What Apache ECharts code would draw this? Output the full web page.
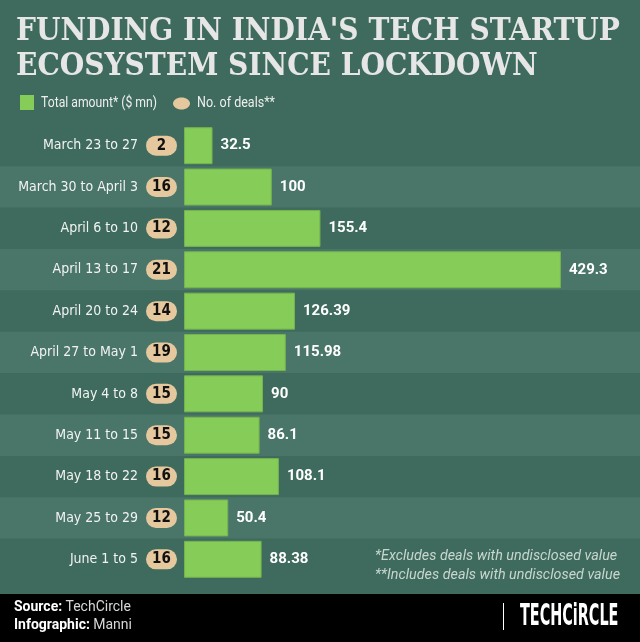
<!DOCTYPE html>
<html>
<head>
<meta charset="utf-8">
<script src="https://cdn.jsdelivr.net/npm/echarts@6/dist/echarts.min.js"></script>
<style>
html,body{margin:0;padding:0;background:#3e6b5d;}
#chart{width:640px;height:642px;}
</style>
</head>
<body>
<div id="chart"></div>
<script>
const categories = ['March 23 to 27','March 30 to April 3','April 6 to 10','April 13 to 17','April 20 to 24','April 27 to May 1','May 4 to 8','May 11 to 15','May 18 to 22','May 25 to 29','June 1 to 5'];
const amounts = [32.5, 100, 155.4, 429.3, 126.39, 115.98, 90, 86.1, 108.1, 50.4, 88.38];
const deals = [2, 16, 12, 21, 14, 19, 15, 15, 16, 12, 16];
const titleLines = ["FUNDING IN INDIA'S TECH STARTUP", "ECOSYSTEM SINCE LOCKDOWN"];
const legendNames = ['Total amount* ($ mn)', 'No. of deals**'];
const footnotes = ['*Excludes deals with undisclosed value', '**Includes deals with undisclosed value'];

const COND = "'DejaVu Sans Condensed',sans-serif";
const TITLEFONT = "bold 32px 'DejaVu Serif Condensed','DejaVu Serif',serif";
const LEGFONT = "15px Roboto,sans-serif";
const NOTEFONT = "italic 15px Roboto,sans-serif";

function measure(text, font){
  const c = document.createElement('canvas').getContext('2d');
  c.font = font; return c.measureText(text).width;
}
const titleScale = 604 / measure(titleLines[0], TITLEFONT);
const leg0Scale = 116 / measure(legendNames[0], LEGFONT);
const leg1Scale = 78 / measure(legendNames[1], LEGFONT);
const noteScale = 245 / measure(footnotes[1], NOTEFONT);

function txt(x, y, text, font, fill, sx, sy){
  return {type:'text', x:x, y:y, scaleX: sx || 1, scaleY: sy || 1, z: 100,
          style:{text:text, font:font, fill:fill, verticalAlign:'middle'}};
}

const chart = echarts.init(document.getElementById('chart'), null, {renderer:'canvas'});
const option = {
  backgroundColor: '#3e6b5d',
  animation: false,
  grid: [
    {left: 0, right: 0, top: 125, height: 455},
    {left: 184, width: 439, top: 125, height: 455}
  ],
  xAxis: [
    {gridIndex: 0, type: 'value', min: 0, max: 1, show: false},
    {gridIndex: 1, type: 'value', min: 0, max: 500, show: false}
  ],
  yAxis: [
    {gridIndex: 0, type: 'category', inverse: true, data: categories,
     axisLine: {show:false}, axisTick: {show:false}, axisLabel: {show:false},
     splitLine: {show:false},
     splitArea: {show: true, areaStyle: {color: ['#3e6b5d', '#4a7569']}}},
    {gridIndex: 1, type: 'category', inverse: true, data: categories,
     axisLine: {show:false}, axisTick: {show:false}, splitLine: {show:false},
     axisLabel: {
       margin: 7,
       formatter: (v, i) => `{lab|${v}}{badge|${deals[i]}}`,
       rich: {
         lab: {fontFamily: COND, fontSize: 14, color: '#f2f2f2', padding: [0, 8, 0, 0]},
         badge: {backgroundColor: '#e6c89e', borderRadius: 10, width: 31, height: 20, lineHeight: 20,
                 align: 'center', fontFamily: COND, fontWeight: 'bold', fontSize: 15, color: '#111'}
       }
     }}
  ],
  series: [{
    type: 'bar', xAxisIndex: 1, yAxisIndex: 1, data: amounts, barWidth: 37,
    itemStyle: {color: '#86cc58', borderColor: '#74b44c', borderWidth: 1},
    label: {show: true, position: 'right', distance: 8, color: '#ffffff',
            fontFamily: 'Roboto', fontWeight: 'bold', fontSize: 15},
    silent: true
  }],
  graphic: [
    txt(16, 32, titleLines[0], TITLEFONT, '#e6e6e6', titleScale),
    txt(16, 67, titleLines[1], TITLEFONT, '#e6e6e6', titleScale),
    {type:'rect', z:100, shape:{x:20, y:95, width:14, height:15}, style:{fill:'#86cc58'}},
    txt(41, 103, legendNames[0], LEGFONT, '#eeeeee', leg0Scale),
    {type:'ellipse', z:100, shape:{cx:181.5, cy:103.5, rx:8.5, ry:6}, style:{fill:'#e6c89e'}},
    txt(197, 103, legendNames[1], LEGFONT, '#eeeeee', leg1Scale),
    txt(375, 556, footnotes[0], NOTEFONT, '#c8d6d0', noteScale),
    txt(375, 575, footnotes[1], NOTEFONT, '#c8d6d0', noteScale),
    {type:'rect', z:100, shape:{x:0, y:594, width:640, height:48}, style:{fill:'#000000'}},
    {type:'text', z:101, x:14, y:607, style:{text:'{b|Source:} {r|TechCircle}', verticalAlign:'middle',
      rich:{b:{fontFamily:'Roboto', fontWeight:'bold', fontSize:14, fill:'#ffffff'}, r:{fontFamily:'Roboto', fontSize:14, fill:'#d8d8d8'}}}},
    {type:'text', z:101, x:14, y:625, style:{text:'{b|Infographic:} {r|Manni}', verticalAlign:'middle',
      rich:{b:{fontFamily:'Roboto', fontWeight:'bold', fontSize:14, fill:'#ffffff'}, r:{fontFamily:'Roboto', fontSize:14, fill:'#d8d8d8'}}}},
    {type:'line', z:101, shape:{x1:503.5, y1:603, x2:503.5, y2:630}, style:{stroke:'#ffffff', lineWidth:1}},
    {type:'text', z:101, x:520, y:617, scaleY: 1.9, style:{text:'TECHCiRCLE', font:"bold 16px 'DejaVu Sans Condensed',sans-serif", fill:'#ffffff', verticalAlign:'middle'}}
  ]
};
chart.setOption(option);
</script>
</body>
</html>
